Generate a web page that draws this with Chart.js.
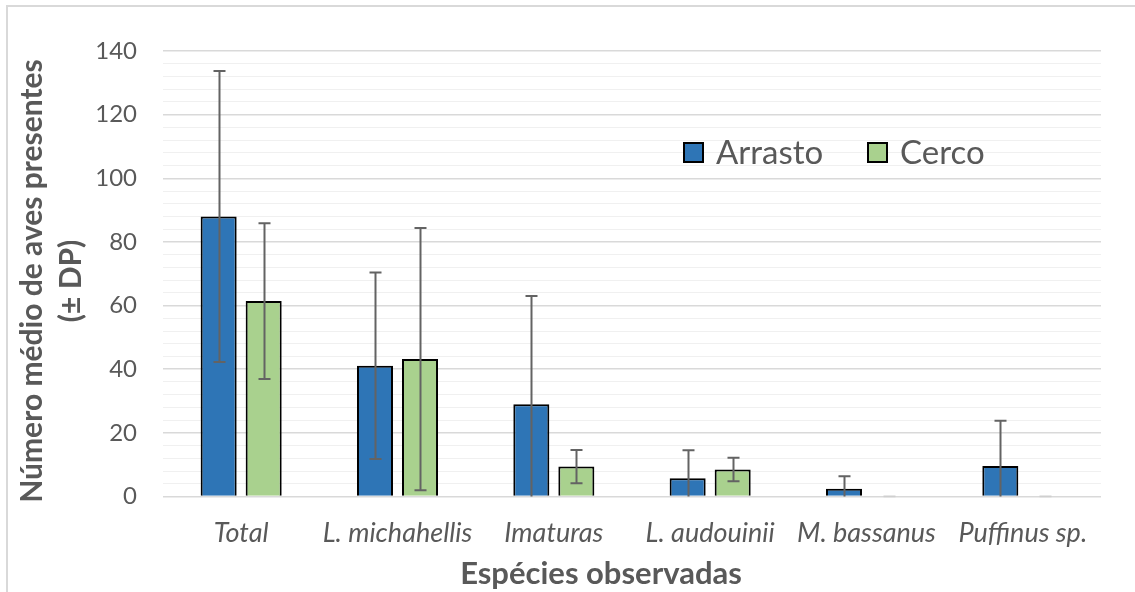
<!DOCTYPE html>
<html>
<head>
<meta charset="utf-8">
<script src="https://cdn.jsdelivr.net/npm/chart.js@4.4.1/dist/chart.umd.min.js"></script>
<style>
  html, body { margin: 0; padding: 0; background: #fff; }
  #wrap { position: relative; width: 1135px; height: 592px; overflow: hidden; }
  #frame { position: absolute; left: 6px; top: 5px; width: 1200px; height: 700px;
           border-left: 2px solid #D9D9D9; border-top: 2px solid #D9D9D9; box-sizing: border-box; }
  canvas { position: absolute; left: 0; top: 0; }
</style>
</head>
<body>
<div id="wrap">
  <div id="frame"></div>
  <canvas id="chart" width="1135" height="592"></canvas>
</div>
<script>
// Species observed and mean number of birds per fishing method
const categories = ['Total', 'L. michahellis', 'Imaturas', 'L. audouinii', 'M. bassanus', 'Puffinus sp.'];
const arrasto    = [88.0, 41.1, 29.0, 5.7, 2.4, 9.6];
const arrastoSD  = [45.7, 29.3, 34.0, 8.8, 4.0, 14.2];
const cerco      = [61.4, 43.2, 9.4, 8.5, 0, 0];
const cercoSD    = [24.5, 41.2, 5.2, 3.7, 0, 0];
const seriesNames = ['Arrasto', 'Cerco'];
const yTitle = ['Número médio de aves presentes', '(± DP)'];
const xTitle = 'Espécies observadas';

const TEXT = '#595959';
const FONT = 'Lato, "Open Sans", sans-serif';

// Standard deviation whiskers drawn over each bar
const errorBars = {
  id: 'errorBars',
  afterDatasetsDraw(chart) {
    const {ctx, chartArea, scales: {y}} = chart;
    ctx.save();
    ctx.beginPath();
    ctx.rect(chartArea.left, chartArea.top - 2, chartArea.right - chartArea.left, chartArea.bottom - chartArea.top + 3);
    ctx.clip();
    ctx.lineWidth = 2;
    chart.data.datasets.forEach((ds, di) => {
      const meta = chart.getDatasetMeta(di);
      meta.data.forEach((bar, i) => {
        const v = ds.data[i], sd = ds.sd[i];
        const x = Math.round(bar.x) + 0.5;
        const yTop = y.getPixelForValue(v + sd);
        const yBot = y.getPixelForValue(Math.max(v - sd, y.min));
        ctx.strokeStyle = sd === 0 ? '#CFCFCF' : '#636363';
        ctx.beginPath();
        ctx.moveTo(x, yTop); ctx.lineTo(x, yBot);
        ctx.moveTo(x - 6, yTop); ctx.lineTo(x + 6, yTop);
        if (v - sd >= y.min) { ctx.moveTo(x - 6, yBot); ctx.lineTo(x + 6, yBot); }
        ctx.stroke();
      });
    });
    ctx.restore();
  }
};

// Legend placed inside the plot area, plus the two axis titles
const annotations = {
  id: 'annotations',
  afterDraw(chart) {
    const {ctx} = chart;
    const legendX = [683, 867];
    ctx.save();
    ctx.font = '33px ' + FONT;
    ctx.textBaseline = 'alphabetic';
    chart.data.datasets.forEach((ds, i) => {
      const bx = legendX[i];
      ctx.fillStyle = ds.backgroundColor;
      ctx.fillRect(bx, 142, 21, 21);
      ctx.strokeStyle = '#000';
      ctx.lineWidth = 2;
      ctx.strokeRect(bx + 1, 143, 19, 19);
      ctx.fillStyle = TEXT;
      ctx.textAlign = 'left';
      ctx.fillText(ds.label, bx + 33, 164);
    });

    ctx.fillStyle = TEXT;
    ctx.font = 'bold 30px ' + FONT;
    ctx.textAlign = 'center';
    [[yTitle[0], 42], [yTitle[1], 81]].forEach(([t, bx]) => {
      ctx.save();
      ctx.translate(bx, 281);
      ctx.rotate(-Math.PI / 2);
      ctx.fillText(t, 0, 0);
      ctx.restore();
    });

    ctx.font = 'bold 31px ' + FONT;
    ctx.fillText(xTitle, 601, 584);
    ctx.restore();
  }
};

new Chart(document.getElementById('chart'), {
  type: 'bar',
  data: {
    labels: categories,
    datasets: [
      { label: seriesNames[0], data: arrasto, sd: arrastoSD, backgroundColor: '#2E75B6',
        borderColor: '#000', borderWidth: 2 },
      { label: seriesNames[1], data: cerco, sd: cercoSD, backgroundColor: '#A9D18E',
        borderColor: '#000', borderWidth: 2 }
    ]
  },
  options: {
    responsive: false,
    animation: false,
    devicePixelRatio: 1,
    layout: { padding: { left: 6, top: 51, right: 34, bottom: 0 } },
    datasets: { bar: { categoryPercentage: 0.576, barPercentage: 0.8 } },
    plugins: { legend: { display: false }, tooltip: { enabled: false } },
    scales: {
      x: {
        grid: { display: false },
        border: { display: false },
        ticks: { color: TEXT, font: { family: FONT, size: 27, style: 'italic' },
                 padding: 13, autoSkip: false, maxRotation: 0 },
        afterFit(scale) { scale.height = 95.5; }
      },
      y: {
        min: 0, max: 140,
        border: { display: false },
        grid: {
          drawTicks: false,
          color: c => (c.tick.value % 20 === 0 ? '#D9D9D9' : '#F0F0F0'),
          lineWidth: c => (c.tick.value % 20 === 0 ? 1.5 : 1)
        },
        ticks: { stepSize: 4, autoSkip: false, color: TEXT, padding: 26,
                 font: { family: FONT, size: 24 },
                 callback: v => (v % 20 === 0 ? v : '') },
        afterFit(scale) { scale.width = 157; }
      }
    }
  },
  plugins: [errorBars, annotations]
});
</script>
</body>
</html>
